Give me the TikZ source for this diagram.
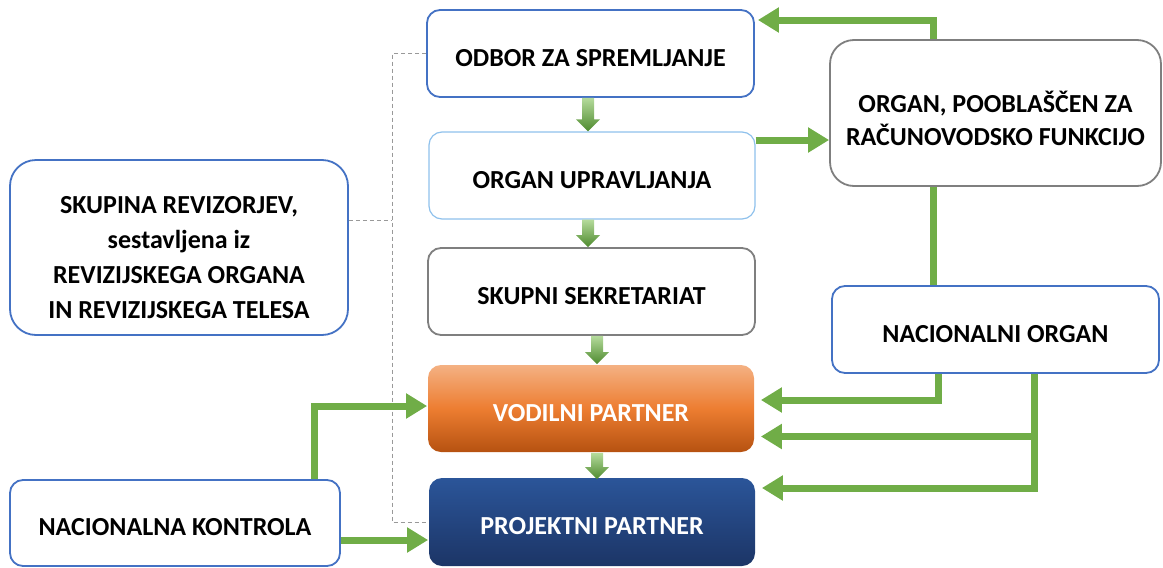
\documentclass[tikz,border=0pt]{standalone}
\usepackage{fontspec}
\setmainfont{Carlito}
\usetikzlibrary{arrows.meta,calc}
\definecolor{gline}{HTML}{70AD47}
\definecolor{bblue}{HTML}{4472C4}
\definecolor{lblue}{HTML}{8FC1EC}
\definecolor{gborder}{HTML}{7F7F7F}
\definecolor{garlight}{HTML}{B5DB9C}
\definecolor{gardark}{HTML}{4E8A2E}
\definecolor{otop}{HTML}{F4B183}
\definecolor{omid}{HTML}{ED7D31}
\definecolor{obot}{HTML}{B65211}
\definecolor{ptop}{HTML}{2B5599}
\definecolor{pbot}{HTML}{1C3566}
\tikzset{
  mbox/.style={rounded corners=13pt, line width=1.8pt, fill=white, align=center,
    font=\fontsize{26}{35}\selectfont\bfseries, inner sep=0pt},
  box/.style={mbox, text height=25pt, text depth=0pt},
  garrow/.style={draw=gline, line width=7pt,
    -{Triangle[width=24pt,length=21pt]}},
  gline/.style={draw=gline, line width=7pt},
  dline/.style={draw=gray!80, line width=1pt, dash pattern=on 4pt off 3pt}
}
\newcommand\gar[2]{\shade[top color=garlight,bottom color=gardark]
  let \p1=(#1), \p2=(#2) in
  (\x1-6pt,\y1) -- (\x1+6pt,\y1) -- (\x1+6pt,\y2+12pt) -- (\x1+12pt,\y2+12pt)
  -- (\x1,\y2) -- (\x1-12pt,\y2+12pt) -- (\x1-6pt,\y2+12pt) -- cycle;}
\begin{document}
\begin{tikzpicture}[x=1pt,y=-1pt]
\useasboundingbox (0,0) rectangle (1163,568);
% nodes
\node[box, draw=bblue, minimum width=327pt, minimum height=87pt] (odbor) at (590.5,53.5) {ODBOR ZA SPREMLJANJE};
\node[box, draw=lblue, line width=1.2pt, minimum width=326pt, minimum height=87pt] (upr) at (592,175.5) {ORGAN UPRAVLJANJA};
\node[box, draw=gborder, minimum width=327pt, minimum height=87pt] (sek) at (591.5,291.5) {SKUPNI SEKRETARIAT};
\node[box, draw=none, text=white, top color=otop, bottom color=obot, middle color=omid, minimum width=326pt, minimum height=87pt] (vod) at (591,408.5) {VODILNI PARTNER};
\node[box, draw=none, text=white, top color=ptop, bottom color=pbot, minimum width=326pt, minimum height=88pt] (proj) at (592,522) {PROJEKTNI PARTNER};
\node[mbox, draw=gborder, rounded corners=24pt, minimum width=331pt, minimum height=146pt, font=\fontsize{26}{33}\selectfont\bfseries] (poobl) at (995.5,113) {\rule{0pt}{32pt}ORGAN, POOBLAŠČEN ZA\\RAČUNOVODSKO FUNKCIJO};
\node[box, draw=bblue, minimum width=327pt, minimum height=87pt] (nac) at (995.5,329.5) {NACIONALNI ORGAN};
\node[mbox, draw=bblue, rounded corners=26pt, minimum width=338pt, minimum height=175pt] (skup) at (179,247.5) {\rule{0pt}{37pt}SKUPINA REVIZORJEV,\\sestavljena iz\\REVIZIJSKEGA ORGANA\\IN REVIZIJSKEGA TELESA};
\node[box, draw=bblue, minimum width=330pt, minimum height=86pt] (kontr) at (175,523) {NACIONALNA KONTROLA};
% gradient arrows
\gar{$(odbor.south)+(-2.5pt,0)$}{$(upr.north)+(-4pt,0)$}
\gar{$(upr.south)+(-4pt,0)$}{$(sek.north)+(-3.5pt,0)$}
\gar{$(sek.south)+(5.5pt,0)$}{$(vod.north)+(6pt,0)$}
\gar{$(vod.south)+(6pt,0)$}{$(proj.north)+(5pt,-2pt)$}
% coordinates
\coordinate (pA) at ($(poobl.north)+(-62.5pt,0)$);
\coordinate (oA) at ($(odbor.east)+(3pt,33.5pt)$);
\coordinate (uA) at ($(upr.east)+(0,35.5pt)$);
\coordinate (pB) at ($(poobl.south)+(-62.5pt,0)$);
\coordinate (nA) at ($(nac.south)+(-57.5pt,0)$);
\coordinate (vA) at ($(vod.east)+(6pt,8.5pt)$);
\coordinate (nB) at ($(nac.south)+(39pt,0)$);
\coordinate (vB) at ($(vod.east)+(6pt,-28pt)$);
\coordinate (prB) at ($(proj.east)+(6pt,34pt)$);
\coordinate (kA) at ($(kontr.north)+(139pt,0)$);
\coordinate (vC) at ($(vod.west)+(0,2.5pt)$);
\coordinate (kB) at ($(kontr.east)+(0,-17pt)$);
\coordinate (dA) at ($(odbor.west)+(-34pt,0)$);
\coordinate (sA) at ($(skup.east)+(0,27.5pt)$);
% dashed
\draw[dline] (odbor.west) -- (dA) |- (proj.west);
\draw[dline] (sA) -- (sA -| dA);
% green connectors
\draw[garrow] (pA) |- (oA);
\draw[garrow] (uA) -- (uA -| poobl.west);
\draw[gline] (pB) -- (pB |- nac.north);
\draw[garrow] (nA) |- (vA);
\draw[garrow] (nB) |- (prB);
\draw[garrow] (nB |- vB) -- (vB);
\draw[garrow] (kA) |- (vC);
\draw[garrow] (kB) -- (kB -| proj.west);
\end{tikzpicture}
\end{document}
